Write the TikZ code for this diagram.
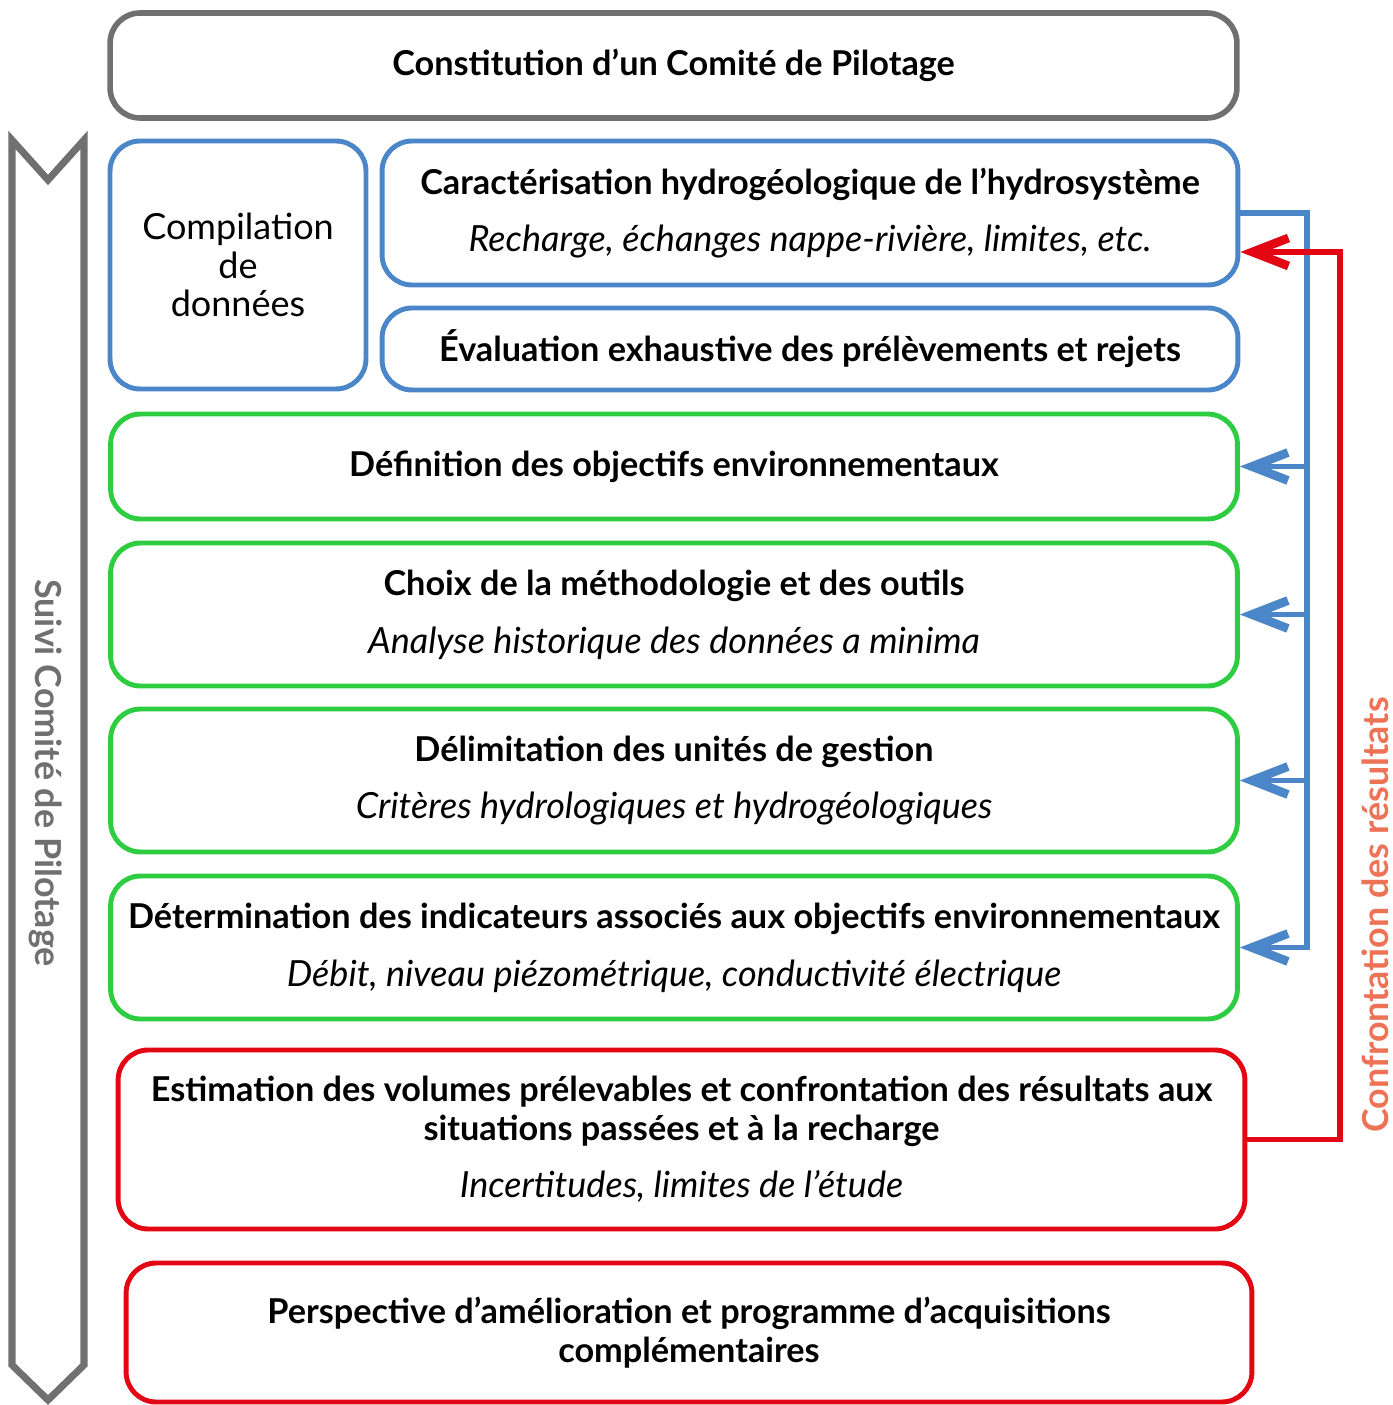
\documentclass[tikz,border=0pt]{standalone}
\usepackage{fontspec}
\setmainfont{Lato}
\usepackage{xcolor}
\usetikzlibrary{arrows.meta}

\definecolor{cgray}{HTML}{707070}
\definecolor{cblue}{HTML}{4A86C8}
\definecolor{cgreen}{HTML}{2ECC40}
\definecolor{cred}{HTML}{E30613}
\definecolor{corange}{HTML}{EE7356}

\newcommand{\gras}{\fontsize{19.5}{21.6}\selectfont\bfseries}
\newcommand{\ital}{\fontsize{20.5}{21.6}\selectfont\itshape}

\begin{document}
\begin{tikzpicture}[
  x=0.02cm, y=-0.02cm,
  every node/.style={align=center, font=\fontsize{20.5}{21.9}\selectfont},
  box/.style={draw, rounded corners=0.6cm, line width=2.8pt, inner sep=0pt},
  graybox/.style={box, draw=cgray, line width=3.2pt},
  bluebox/.style={box, draw=cblue},
  greenbox/.style={box, draw=cgreen},
  redbox/.style={box, draw=cred},
  wide/.style={minimum width=22.54cm},
  tip/.style={-{Straight Barb[length=0.72cm, width=0.56cm, line width=5pt]}},
  blueline/.style={draw=cblue, line width=3.2pt},
  redline/.style={draw=cred, line width=3.2pt},
  sidelabel/.style={inner sep=0pt, font=\fontsize{20.4}{22}\selectfont\bfseries}
]
\useasboundingbox (0,0) rectangle (1392,1405);

% suivi
\draw[cgray, line width=4pt] (12,140) -- (48,180) -- (84,140) -- (84,1365)
  -- (48,1400) -- (12,1365) -- cycle;
\node[rotate=-90, text=cgray, sidelabel] (suivi) at (46,773) {Suivi Comité de Pilotage};

% boxes
\node[graybox, wide, minimum height=2.1cm] (comite) at (673.5,65.5)
  {\gras Constitution d'un Comité de Pilotage};
\node[bluebox, minimum width=5.12cm, minimum height=4.96cm] (compil) at (238,265)
  {Compilation\\de\\données};
\node[bluebox, minimum width=17.12cm, minimum height=2.88cm] (caract) at (810,213)
  {\gras Caractérisation hydrogéologique de l'hydrosystème\\[11pt]
   \ital Recharge, échanges nappe-rivière, limites, etc.};
\node[bluebox, minimum width=17.12cm, minimum height=1.64cm] (eval) at (810,349)
  {\gras Évaluation exhaustive des prélèvements et rejets};
\node[greenbox, wide, minimum height=2.1cm] (defin) at (674,466.5)
  {\gras Définition des objectifs environnementaux};
\node[greenbox, wide, minimum height=2.86cm] (choix) at (674,614.5)
  {\gras Choix de la méthodologie et des outils\\[11pt]
   \ital Analyse historique des données a minima};
\node[greenbox, wide, minimum height=2.86cm] (delim) at (674,780.5)
  {\gras Délimitation des unités de gestion\\[11pt]
   \ital Critères hydrologiques et hydrogéologiques};
\node[greenbox, wide, minimum height=2.86cm] (determ) at (674,947.5)
  {\gras Détermination des indicateurs associés aux objectifs environnementaux\\[11pt]
   \ital Débit, niveau piézométrique, conductivité électrique};
\node[redbox, wide, minimum height=3.58cm] (estim) at (681.5,1139.5)
  {\gras Estimation des volumes prélevables et confrontation des résultats aux\\
   \gras situations passées et à la recharge\\[11pt]
   \ital Incertitudes, limites de l'étude};
\node[redbox, minimum width=22.52cm, minimum height=2.78cm] (persp) at (689,1332.5)
  {\gras Perspective d'amélioration et programme d'acquisitions\\
   \gras complémentaires};

% retours
\coordinate (bustop) at (1307,213);
\coordinate (busbot) at (1307,947.5);
\draw[blueline, tip] (caract.east) -- (bustop) -- (busbot) -- (determ.east);
\draw[blueline, tip] (defin.east -| bustop) -- (defin.east);
\draw[blueline, tip] (choix.east -| bustop) -- (choix.east);
\draw[blueline, tip] (delim.east -| bustop) -- (delim.east);

\coordinate (redtop) at (1340,252);
\draw[redline, tip] (estim.east) -| (redtop) -- (redtop -| caract.east);
\node[rotate=90, text=corange, sidelabel] (confront) at (1375,915) {Confrontation des résultats};
\end{tikzpicture}
\end{document}
